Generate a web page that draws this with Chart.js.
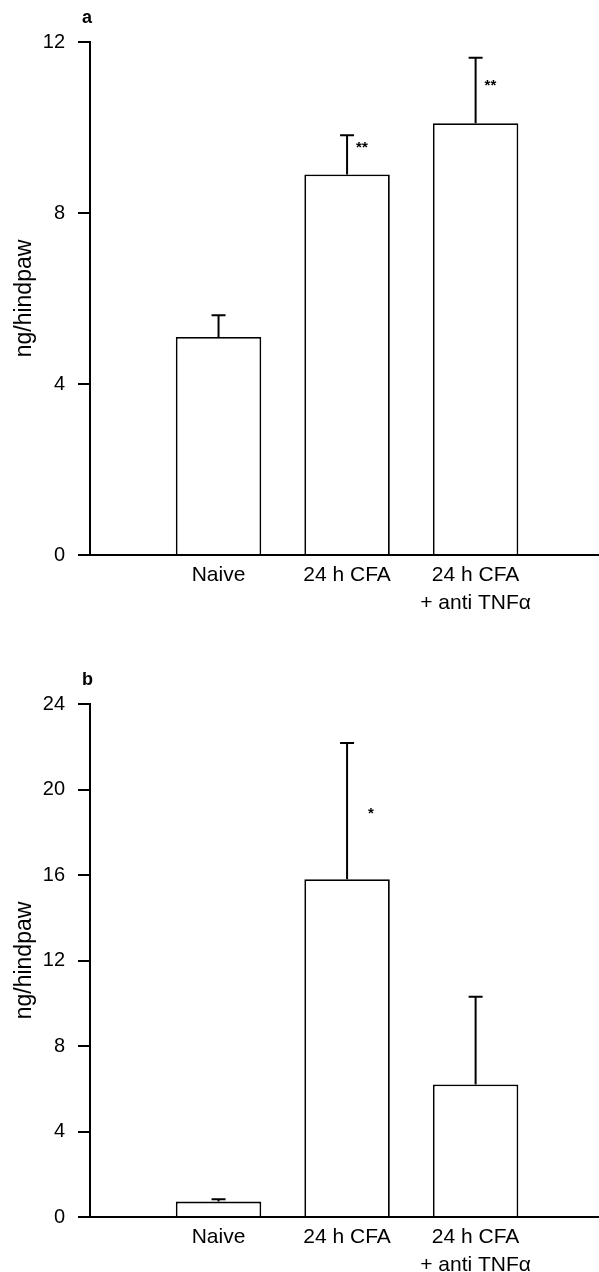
<!DOCTYPE html>
<html>
<head>
<meta charset="utf-8">
<script src="https://cdn.jsdelivr.net/npm/chart.js@4.4.1/dist/chart.umd.min.js"></script>
<style>
  html, body { margin: 0; padding: 0; background: #fff; }
  #wrap { position: relative; width: 599px; height: 1272px; }
  canvas { position: absolute; left: 0; }
</style>
</head>
<body>
<div id="wrap">
  <canvas id="chartA" width="599" height="620" style="top:0px"></canvas>
  <canvas id="chartB" width="599" height="652" style="top:620px"></canvas>
</div>
<script>
// groups on the x axis
const groups = [["Naive"], ["24 h CFA"], ["24 h CFA", "+ anti TNFα"]];
const groupPos = [1, 2, 3];

// panel a
const meanA = [5.1, 8.9, 10.1];
const semA = [0.51, 0.92, 1.53];
const ticksA = [0, 4, 8, 12];
const sigA = ["", "**", "**"];
const sigYA = [null, 9.6, 11.05];

// panel b
const meanB = [0.72, 15.8, 6.2];
const semB = [0.11, 6.38, 4.1];
const ticksB = [0, 4, 8, 12, 16, 20, 24];
const sigB = ["", "*", ""];
const sigYB = [null, 19.0, null];

const FONT = "'Liberation Sans', Arial, sans-serif";
Chart.defaults.font.family = FONT;
Chart.defaults.color = "#000";

// error bars (upper only), stars and panel letter
const extras = {
  id: "extras",
  afterDatasetsDraw(chart, args, opts) {
    const { ctx, scales: { x, y }, chartArea } = chart;
    ctx.save();
    ctx.strokeStyle = "#000";
    ctx.lineWidth = 2;
    opts.mean.forEach((m, i) => {
      const px = x.getPixelForValue(groupPos[i]);
      const y0 = y.getPixelForValue(m);
      const y1 = y.getPixelForValue(m + opts.sem[i]);
      ctx.beginPath();
      ctx.moveTo(px, y0);
      ctx.lineTo(px, y1);
      ctx.moveTo(px - 7, y1);
      ctx.lineTo(px + 7, y1);
      ctx.stroke();
      if (opts.sig[i]) {
        ctx.fillStyle = "#000";
        ctx.font = "bold 15px " + FONT;
        ctx.textAlign = "left";
        ctx.textBaseline = "middle";
        ctx.fillText(opts.sig[i], px + opts.sigDx, y.getPixelForValue(opts.sigY[i]) + 3);
      }
    });
    ctx.font = "bold 18px " + FONT;
    ctx.fillStyle = "#000";
    ctx.textAlign = "left";
    ctx.textBaseline = "middle";
    ctx.fillText(opts.letter, chartArea.left - 8, chartArea.top - 24);
    ctx.restore();
  }
};

function renderPanel(id, mean, sem, ticks, sig, sigY, sigDx, letter, top, xHeight) {
  const canvas = document.getElementById(id);
  if (!canvas) {
    console.error("canvas " + id + " not found");
    return;
  }
  new Chart(canvas.getContext("2d"), {
    type: "bar",
    data: {
      datasets: [{
        data: mean.map((v, i) => ({ x: groupPos[i], y: v })),
        backgroundColor: "#fff",
        borderColor: "#000",
        borderWidth: 1.8,
        barPercentage: 0.665,
        categoryPercentage: 1
      }]
    },
    options: {
      responsive: false,
      animation: false,
      devicePixelRatio: 1,
      layout: { padding: { top: top, right: 0, bottom: 0, left: 0 } },
      plugins: {
        legend: { display: false },
        tooltip: { enabled: false },
        extras: { mean, sem, sig, sigY, sigDx, letter }
      },
      scales: {
        x: {
          type: "linear",
          offset: false,
          min: 0,
          max: 3.96,
          afterBuildTicks: s => { s.ticks = groupPos.map(v => ({ value: v })); },
          afterFit: s => { s.height = xHeight; },
          grid: { display: false, drawTicks: false, offset: false },
          border: { display: true, color: "#000", width: 2 },
          ticks: {
            autoSkip: false,
            maxRotation: 0,
            padding: 7,
            font: { size: 21, lineHeight: 1.3 },
            callback: v => groups[groupPos.indexOf(v)]
          }
        },
        y: {
          min: 0,
          max: ticks[ticks.length - 1],
          afterBuildTicks: s => { s.ticks = ticks.map(v => ({ value: v })); },
          afterFit: s => { s.width = 90; },
          grid: { drawOnChartArea: false, drawTicks: true, tickLength: 12, color: "#000", lineWidth: 2 },
          border: { display: true, color: "#000", width: 2 },
          ticks: { padding: 13, font: { size: 20 } },
          title: {
            display: true,
            text: "ng/hindpaw",
            font: { size: 23 },
            padding: { top: 11, bottom: 0 }
          }
        }
      }
    },
    plugins: [extras]
  });
}

renderPanel("chartA", meanA, semA, ticksA, sigA, sigYA, 9, "a", 42, 65);
renderPanel("chartB", meanB, semB, ticksB, sigB, sigYB, 21, "b", 84, 55);
</script>
</body>
</html>
